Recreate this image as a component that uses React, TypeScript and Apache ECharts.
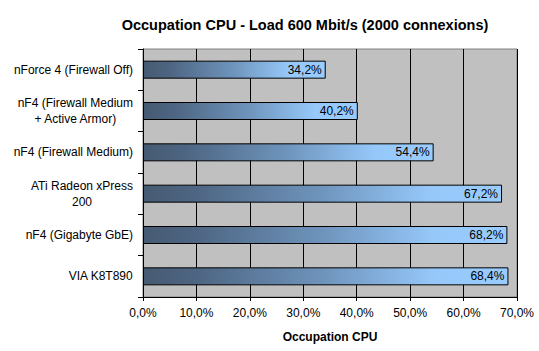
import React, { useEffect, useRef } from "react";
import * as echarts from "echarts";

const categories = [
  "nForce 4 (Firewall Off)",
  "nF4 (Firewall Medium\n+ Active Armor)",
  "nF4 (Firewall Medium)",
  "ATi Radeon xPress\n200",
  "nF4 (Gigabyte GbE)",
  "VIA K8T890",
];
const values = [34.2, 40.2, 54.4, 67.2, 68.2, 68.4];
const titleText = "Occupation CPU - Load 600 Mbit/s (2000 connexions)";
const axisName = "Occupation CPU";

const FONT = "'Liberation Sans', Arial, sans-serif";
const fmt = (v: number) => v.toFixed(1).replace(".", ",") + "%";

export default function App() {
  const ref = useRef<HTMLDivElement>(null);
  useEffect(() => {
    if (!ref.current) return;
    const chart = echarts.init(ref.current, null, { renderer: "svg" });
    chart.setOption({
      animation: false,
      backgroundColor: "#ffffff",
      textStyle: { fontFamily: FONT },
      title: {
        text: titleText,
        left: 300,
        textAlign: "center",
        top: 12,
        textStyle: { fontFamily: FONT, fontSize: 14.5, fontWeight: "bold", color: "#000" },
      },
      grid: {
        left: 143,
        right: 22,
        top: 49,
        bottom: 54,
        show: true,
        backgroundColor: "#c0c0c0",
        borderColor: "#808080",
        borderWidth: 1,
      },
      xAxis: {
        type: "value",
        min: 0,
        max: 70,
        interval: 10,
        name: axisName,
        nameLocation: "middle",
        nameGap: 34,
        nameTextStyle: { fontFamily: FONT, fontSize: 12, fontWeight: "bold", color: "#000" },
        axisLine: { show: true, lineStyle: { color: "#000", width: 1 } },
        axisTick: { show: true, length: 4, lineStyle: { color: "#000" } },
        axisLabel: {
          margin: 10,
          fontFamily: FONT,
          fontSize: 12,
          color: "#000",
          formatter: (v: number) => fmt(v),
        },
        splitLine: { show: true, lineStyle: { color: "#000", width: 1 } },
      },
      yAxis: {
        type: "category",
        data: categories,
        inverse: true,
        axisLine: { show: true, lineStyle: { color: "#000", width: 1 } },
        axisTick: { show: true, length: 5, alignWithLabel: false, lineStyle: { color: "#000" } },
        axisLabel: {
          margin: 10,
          color: "#000",
          formatter: (v: string) =>
            v
              .split("\n")
              .map((l) => `{c|${l}}`)
              .join("\n"),
          rich: {
            c: { align: "center", fontFamily: FONT, fontSize: 12, lineHeight: 16, color: "#000" },
          },
        },
        splitLine: { show: false },
      },
      series: [
        {
          type: "bar",
          data: values,
          barWidth: 18,
          itemStyle: {
            color: new echarts.graphic.LinearGradient(0, 0, 1, 0, [
              { offset: 0, color: "#465a72" },
              { offset: 0.15, color: "#4e6683" },
              { offset: 0.5, color: "#6f95bd" },
              { offset: 0.8, color: "#96c8fa" },
              { offset: 1, color: "#99ccff" },
            ]),
            borderColor: "#000",
            borderWidth: 1,
          },
          label: {
            show: true,
            position: "insideRight",
            distance: 4,
            fontFamily: FONT,
            fontSize: 12,
            color: "#000",
            formatter: (p: any) => fmt(p.value),
          },
        },
      ],
    });
    return () => chart.dispose();
  }, []);
  return (
    <div
      ref={ref}
      style={{ position: "fixed", left: 0, top: 0, width: 539, height: 351 }}
    />
  );
}
